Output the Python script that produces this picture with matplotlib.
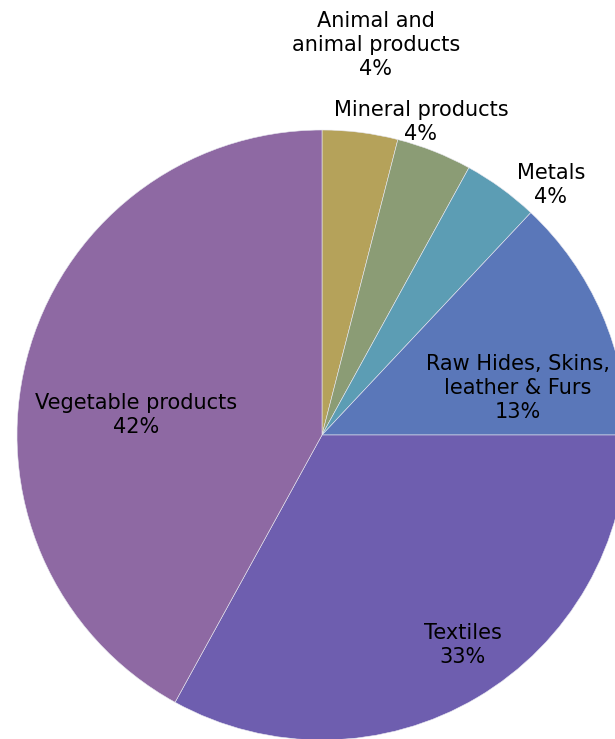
import matplotlib.pyplot as plt

categories = ["Animal and\nanimal products", "Mineral products", "Metals",
              "Raw Hides, Skins,\nleather & Furs", "Textiles", "Vegetable products"]
shares = [4, 4, 4, 13, 33, 42]
colors = ["#B5A25A", "#8B9C75", "#5C9DB4", "#5A77B9", "#6E5EAF", "#8E69A3"]

# label centres in pixels (x, y from top)
label_px = [(376, 45), (421, 122), (551, 185), (518, 388), (463, 645), (136, 415)]

W, H = 615, 739
cx, cy, R = 322, 435, 305

fig = plt.figure(figsize=(W / 100, H / 100), dpi=100)
ax = fig.add_axes([0, 0, 1, 1])
ax.pie(shares, colors=colors, startangle=90, counterclock=False, radius=1,
       wedgeprops=dict(edgecolor="#e8e8f0", linewidth=0.4))
ax.set_xlim(-cx / R, (W - cx) / R)
ax.set_ylim(-(H - cy) / R, cy / R)
ax.set_aspect("equal")
ax.axis("off")

for name, val, (px, py) in zip(categories, shares, label_px):
    ax.text((px - cx) / R, (cy - py) / R, f"{name}\n{val}%", ha="center", va="center",
            fontsize=15, family="DejaVu Sans", color="black", linespacing=1.25)

fig.savefig("out.png", dpi=100)
